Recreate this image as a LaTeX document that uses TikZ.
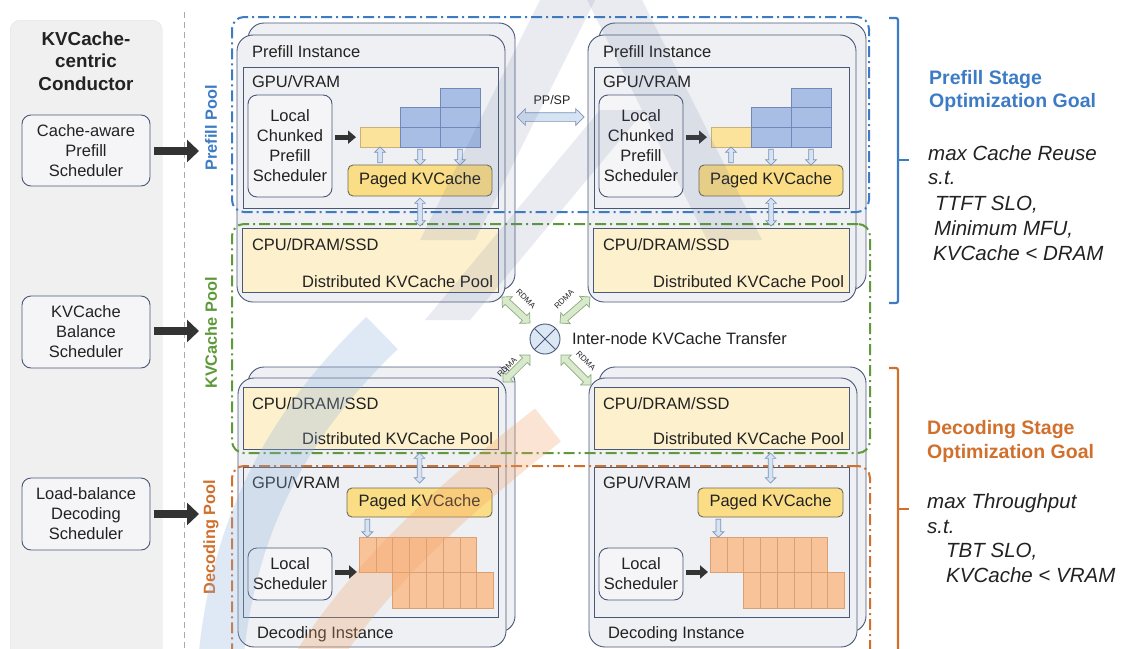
\documentclass[tikz,border=0pt]{standalone}
\usepackage{fontspec}
\setmainfont{Liberation Sans}
\usetikzlibrary{arrows.meta,shapes.arrows,calc}

\definecolor{inkc}{HTML}{222222}
\definecolor{arrowc}{HTML}{333333}
\definecolor{framec}{HTML}{4A5878}
\definecolor{instfill}{HTML}{EEF0F3}
\definecolor{schfill}{HTML}{F5F5F7}
\definecolor{colfill}{HTML}{F0F0F0}
\definecolor{colline}{HTML}{E3E3E3}
\definecolor{sepc}{HTML}{AAAAAA}
\definecolor{prefillblue}{HTML}{3D7CC4}
\definecolor{kvgreen}{HTML}{5E9A3A}
\definecolor{decorange}{HTML}{D0702C}
\definecolor{dramfill}{HTML}{FDF0CC}
\definecolor{pagedfill}{HTML}{FBDD85}
\definecolor{pagededge}{HTML}{6E6A58}
\definecolor{cellyellow}{HTML}{FCE39B}
\definecolor{cellyellowedge}{HTML}{C9B27A}
\definecolor{cellblue}{HTML}{A9BEE4}
\definecolor{cellblueedge}{HTML}{7388BA}
\definecolor{cellorange}{HTML}{F9C39A}
\definecolor{cellorangeedge}{HTML}{D9A074}
\definecolor{linkfill}{HTML}{D6E3F3}
\definecolor{linkedge}{HTML}{7E93B8}
\definecolor{rdmafill}{HTML}{D8E9CC}
\definecolor{rdmaedge}{HTML}{8DAA80}
\definecolor{xferfill}{HTML}{DCE7F5}
\definecolor{wmblue}{HTML}{8FB2DC}
\definecolor{wmorange}{HTML}{F2A062}
\definecolor{wmgrey}{HTML}{5A6A96}

\newcommand\dgmfont{\fontsize{16.5}{20}\selectfont}

\tikzset{
  lbl/.style={inner sep=0pt, outer sep=0pt, font=\dgmfont, text=inkc},
  column/.style={draw=colline, fill=colfill, rounded corners=10pt, inner sep=0pt},
  sched/.style={draw=framec, line width=0.9pt, fill=schfill, rounded corners=9pt, align=center, font=\dgmfont, text=inkc, inner sep=0pt, outer sep=0pt},
  sepline/.style={draw=sepc, line width=0.8pt, dash pattern=on 6pt off 4pt},
  bigarrow/.style={draw=arrowc, line width=8pt, -{Triangle[length=12pt,width=22pt]}},
  smallarrow/.style={draw=arrowc, line width=5pt, -{Triangle[length=8pt,width=13pt]}},
  pool/.style={line width=2pt, dash pattern=on 11pt off 4pt on 2pt off 4pt, rounded corners=12pt, inner sep=0pt, outer sep=0pt},
  poollbl/.style={rotate=90, font=\bfseries\fontsize{16.3}{19}\selectfont, inner sep=0pt},
  instframe/.style={draw=framec, line width=0.9pt, fill=instfill, rounded corners=16pt, inner sep=0pt, outer sep=0pt},
  gpubox/.style={draw=framec, line width=0.9pt, fill=instfill, inner sep=0pt, outer sep=0pt},
  drambox/.style={draw=framec, line width=0.9pt, fill=dramfill, inner sep=0pt, outer sep=0pt},
  paged/.style={draw=pagededge, line width=0.9pt, fill=pagedfill, rounded corners=5pt, font=\dgmfont, text=inkc, inner sep=0pt, outer sep=0pt},
  ycell/.style={draw=cellyellowedge, line width=0.6pt, fill=cellyellow, inner sep=0pt, outer sep=0pt},
  bcell/.style={draw=cellblueedge, line width=0.6pt, fill=cellblue, inner sep=0pt, outer sep=0pt, minimum width=40, minimum height=19.7, anchor=north west},
  ocell/.style={draw=cellorangeedge, line width=0.6pt, fill=cellorange, inner sep=0pt, outer sep=0pt, minimum width=16.8, anchor=north west},
  hollowdbl/.style={shape=double arrow, draw=linkedge, fill=linkfill, line width=0.7pt, inner sep=2pt, double arrow head extend=3pt, minimum width=0pt, outer sep=0pt},
  hollowone/.style={shape=single arrow, draw=linkedge, fill=linkfill, line width=0.7pt, inner sep=2pt, single arrow head extend=3pt, minimum width=0pt, outer sep=0pt},
  ppsp/.style={hollowdbl, inner sep=4pt, double arrow head extend=4pt},
  rdma/.style={hollowdbl, draw=rdmaedge, fill=rdmafill, inner sep=3pt, double arrow head extend=4pt},
  rdmalbl/.style={font=\fontsize{8}{9}\selectfont, text=inkc, inner sep=0pt},
  bracket/.style={line width=2.2pt, rounded corners=2pt},
  goalhead/.style={font=\bfseries\fontsize{19.5}{24}\selectfont, inner sep=0pt, anchor=base west},
  goaltext/.style={font=\itshape\fontsize{20.5}{24}\selectfont, text=inkc, inner sep=0pt, anchor=base west},
}

% hollow block arrow laid along the segment between two points
\newcommand\hollowlink[3][]{%
  \path let \p1=(#2), \p2=(#3), \n1={veclen(\x2-\x1,\y2-\y1)} in
    (\p1) -- (\p2) node[midway, sloped, allow upside down, #1, minimum height=\n1] {};}

% one prefill instance: #1 name prefix, #2 horizontal offset
\newcommand\prefillunit[2]{%
  \node[instframe, minimum width=267, minimum height=267, anchor=north west] (#1back) at ({248+#2},23) {};
  \node[instframe, minimum width=268, minimum height=267, anchor=north west] (#1inst) at ({237+#2},35) {};
  \node[lbl, anchor=base west] (#1name) at ({252+#2},57) {Prefill Instance};
  \node[gpubox, minimum width=255, minimum height=141, anchor=north west] (#1gpu) at ({243+#2},67) {};
  \node[lbl, anchor=base west] (#1gpulbl) at ({252+#2},87) {GPU/VRAM};
  \node[sched, minimum width=84, minimum height=102] (#1sch) at ({290+#2},146) {Local\\Chunked\\Prefill\\Scheduler};
  \node[ycell, minimum width=40, minimum height=19.7, anchor=north west] (#1y) at ({360+#2},127.3) {};
  \node[bcell] (#1ba) at ({400+#2},107.6) {};
  \node[bcell] (#1bb) at ({400+#2},127.3) {};
  \node[bcell] (#1bc) at ({440+#2},87.9) {};
  \node[bcell] (#1bd) at ({440+#2},107.6) {};
  \node[bcell] (#1be) at ({440+#2},127.3) {};
  \node[paged, minimum width=144, minimum height=31] (#1paged) at ({420+#2},180.5) {Paged KVCache};
  \node[drambox, minimum width=256, minimum height=64, anchor=north west] (#1dram) at ({242+#2},228) {};
  \node[lbl, anchor=base west] (#1cpulbl) at ({252+#2},250) {CPU/DRAM/SSD};
  \node[lbl, anchor=base east] (#1poollbl) at ({493+#2},287) {Distributed KVCache Pool};
  \draw[smallarrow] ($(#1sch.east|-#1y.west)+(3,0)$) -- ($(#1y.west)+(-4,0)$);
  \hollowlink[hollowone]{$(#1y.south|-#1paged.north)+(0,-1)$}{$(#1y.south)+(0,1)$}
  \hollowlink[hollowone]{$(#1bb.south)+(0,1)$}{$(#1bb.south|-#1paged.north)+(0,-1)$}
  \hollowlink[hollowone]{$(#1be.south)+(0,1)$}{$(#1be.south|-#1paged.north)+(0,-1)$}
}

% one decoding instance: #1 name prefix, #2 horizontal offset
\newcommand\decodeunit[2]{%
  \node[instframe, minimum width=267, minimum height=265, anchor=north west] (#1back) at ({248+#2},367) {};
  \node[instframe, minimum width=268, minimum height=269, anchor=north west] (#1inst) at ({238+#2},378) {};
  \node[drambox, minimum width=255, minimum height=62, anchor=north west] (#1dram) at ({243+#2},387) {};
  \node[lbl, anchor=base west] (#1cpulbl) at ({252+#2},409) {CPU/DRAM/SSD};
  \node[lbl, anchor=base east] (#1poollbl) at ({493+#2},444) {Distributed KVCache Pool};
  \node[gpubox, minimum width=255, minimum height=150, anchor=north west] (#1gpu) at ({243+#2},467) {};
  \node[lbl, anchor=base west] (#1gpulbl) at ({252+#2},488) {GPU/VRAM};
  \node[paged, minimum width=145, minimum height=29] (#1paged) at ({419.5+#2},502.5) {Paged KVCache};
  \node[sched, minimum width=84, minimum height=52] (#1sch) at ({290+#2},574) {Local\\Scheduler};
  \foreach \i in {0,...,6}
    \node[ocell, minimum height=35] (#1t\i) at ({359+16.8*\i+#2},537) {};
  \foreach \i in {2,...,7}
    \node[ocell, minimum height=36] (#1u\i) at ({359+16.8*\i+#2},572) {};
  \node[lbl, anchor=base west] (#1name) at ({257+#2},638) {Decoding Instance};
  \coordinate (#1cellin) at ({357+#2},572);
  \draw[smallarrow] ($(#1sch.east|-#1cellin)+(3,0)$) -- (#1cellin);
  \hollowlink[hollowone]{$(#1t0.north|-#1paged.south)+(0,1)$}{$(#1t0.north)+(0,-1)$}
}

\begin{document}
\begin{tikzpicture}[x=1pt,y=-1pt]
\useasboundingbox (0,0) rectangle (1124,648);
\fill[white] (0,0) rectangle (1124,648);

% ---- conductor column ----
\node[column, minimum width=152, minimum height=640, anchor=north west] (conductor) at (10,20) {};
\node[font=\bfseries\fontsize{18.8}{22.5}\selectfont, align=center, text=inkc, inner sep=0pt] (ctitle) at (86,61) {KVCache-\\centric\\Conductor};
\node[sched, minimum width=128, minimum height=71] (cs1) at (86,150.5) {Cache-aware\\Prefill\\Scheduler};
\node[sched, minimum width=128, minimum height=72] (cs2) at (86,332) {KVCache\\Balance\\Scheduler};
\node[sched, minimum width=128, minimum height=72] (cs3) at (86,514) {Load-balance\\Decoding\\Scheduler};

\coordinate (septop) at (184,12);
\coordinate (sepbot) at (184,648);
\draw[sepline] (septop) -- (sepbot);

% ---- instances ----
\prefillunit{pa}{0}
\prefillunit{pb}{351}
\decodeunit{da}{0}
\decodeunit{db}{351}

% ---- pools ----
\node[pool, draw=prefillblue, minimum width=637, minimum height=195, anchor=north west] (ppool) at (232,17) {};
\node[pool, draw=kvgreen, minimum width=638, minimum height=229, anchor=north west] (kpool) at (232,224) {};
\node[pool, draw=decorange, minimum width=638, minimum height=214, anchor=north west] (dpool) at (232,466) {};

\node[poollbl, text=prefillblue] (pplbl) at (211,128) {Prefill Pool};
\node[poollbl, text=kvgreen] (kplbl) at (211,333) {KVCache Pool};
\node[poollbl, text=decorange] (dplbl) at (211,537) {Decoding Pool};

% ---- scheduler dispatch arrows ----
\coordinate (in1) at (199,151);
\coordinate (in2) at (199,331);
\coordinate (in3) at (199,514);
\draw[bigarrow] ($(cs1.east|-in1)+(4,0)$) -- (in1);
\draw[bigarrow] ($(cs2.east|-in2)+(4,0)$) -- (in2);
\draw[bigarrow] ($(cs3.east|-in3)+(4,0)$) -- (in3);

% ---- GPU <-> DRAM links ----
\hollowlink[hollowdbl]{$(papaged.south)+(0,2)$}{$(papaged.south|-padram.north)+(0,-2)$}
\hollowlink[hollowdbl]{$(pbpaged.south)+(0,2)$}{$(pbpaged.south|-pbdram.north)+(0,-2)$}
\hollowlink[hollowdbl]{$(dapaged.north|-dadram.south)+(0,4)$}{$(dapaged.north)+(0,-5)$}
\hollowlink[hollowdbl]{$(dbpaged.north|-dbdram.south)+(0,4)$}{$(dbpaged.north)+(0,-5)$}

% ---- PP/SP between prefill instances ----
\coordinate (ppspy) at (0,117);
\hollowlink[ppsp]{$(paback.east|-ppspy)+(2,0)$}{$(pbinst.west|-ppspy)+(-4,0)$}
\node[font=\fontsize{12.5}{13}\selectfont, text=inkc, inner sep=0pt] (ppsplbl) at (552,100.5) {PP/SP};

% ---- inter-node transfer ----
\node[circle, draw=framec, fill=xferfill, minimum size=30, line width=0.9pt, inner sep=0pt,
  path picture={\draw[framec, line width=0.9pt] (path picture bounding box.north west) -- (path picture bounding box.south east)
  (path picture bounding box.north east) -- (path picture bounding box.south west);}] (xfer) at (545,339) {};
\node[lbl, anchor=west] (xferlbl) at (572,339) {Inter-node KVCache Transfer};

\coordinate (rul) at (502,297);
\coordinate (rur) at (590,297);
\coordinate (rll) at (503,382);
\coordinate (rlr) at (591,385);
\hollowlink[rdma]{rul}{$(xfer)+(-15,-16)$}
\hollowlink[rdma]{rur}{$(xfer)+(15,-16)$}
\hollowlink[rdma]{rll}{$(xfer)+(-15,16)$}
\hollowlink[rdma]{rlr}{$(xfer)+(16,16)$}
\node[rdmalbl, rotate=-45] (rdul) at (526,299) {RDMA};
\node[rdmalbl, rotate=45] (rdur) at (564,299) {RDMA};
\node[rdmalbl, rotate=45] (rdll) at (507,367) {RDMA};
\node[rdmalbl, rotate=-45] (rdlr) at (586,361) {RDMA};

% ---- optimisation goals ----
\draw[bracket, draw=prefillblue] (889,18) -- (898,18) -- (898,303) -- (889,303);
\draw[bracket, draw=prefillblue] (898,160) -- (909,160);
\draw[bracket, draw=decorange] (889,368) -- (898,368) -- (898,670);
\draw[bracket, draw=decorange] (898,509) -- (909,509);

\node[goalhead, text=prefillblue] (pg1) at (929,84) {Prefill Stage};
\node[goalhead, text=prefillblue] (pg2) at (929,107) {Optimization Goal};
\node[goaltext] (pg3) at (928,160) {max Cache Reuse};
\node[goaltext] (pg4) at (928,184) {s.t.};
\node[goaltext] (pg5) at (935,210) {TTFT SLO,};
\node[goaltext] (pg6) at (934,235) {Minimum MFU,};
\node[goaltext] (pg7) at (933,260) {KVCache < DRAM};

\node[goalhead, text=decorange] (dg1) at (927,434) {Decoding Stage};
\node[goalhead, text=decorange] (dg2) at (927,458) {Optimization Goal};
\node[goaltext] (dg3) at (927,508) {max Throughput};
\node[goaltext] (dg4) at (927,533) {s.t.};
\node[goaltext] (dg5) at (946,557) {TBT SLO,};
\node[goaltext] (dg6) at (946,582) {KVCache < VRAM};

% ---- translucent backdrop bands ----
\fill[wmgrey, opacity=0.13] (545,-10) -- (600,-10) -- (475,240) -- (420,240) -- cycle;
\fill[wmgrey, opacity=0.13] (582,-10) -- (637,-10) -- (762,240) -- (707,240) -- cycle;
\fill[wmgrey, opacity=0.13] (600,110) -- (645,110) -- (470,320) -- (425,320) -- cycle;
\draw[wmblue, line width=45pt, opacity=0.28] (382,333) .. controls (292,420) and (232,520) .. (220,668);
\draw[wmorange, line width=42pt, opacity=0.28] (548,425) .. controls (452,500) and (362,580) .. (302,682);
\end{tikzpicture}
\end{document}
